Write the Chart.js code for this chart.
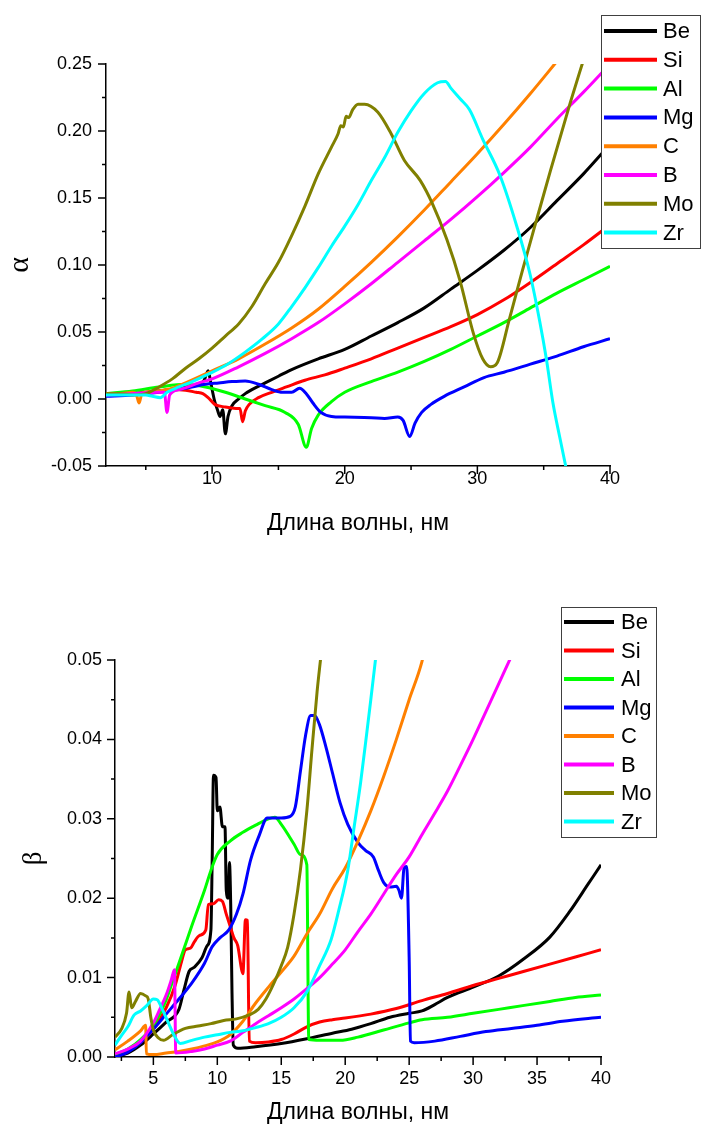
<!DOCTYPE html>
<html>
<head>
<meta charset="utf-8">
<title>alpha / beta</title>
<script src="https://cdn.jsdelivr.net/npm/chart.js@4.4.1/dist/chart.umd.min.js"></script>
<style>
  body { margin: 0; background: #fff; }
  canvas { display: block; }
</style>
</head>
<body>
<canvas id="chartAlpha" width="701" height="545"></canvas>
<canvas id="chartBeta" width="701" height="579"></canvas>
<script>
// names and colours of the series
var names = ['Be', 'Si', 'Al', 'Mg', 'C', 'B', 'Mo', 'Zr'];
var colors = ['#000000', '#ff0000', '#00ff00', '#0000ff', '#ff8000', '#ff00ff', '#808000', '#00ffff'];

// ticks
var alphaXMajor = [10, 20, 30, 40];
var alphaXMinor = [5, 15, 25, 35];
var alphaYMajor = [-0.05, 0, 0.05, 0.10, 0.15, 0.20, 0.25];
var alphaYMinor = [-0.025, 0.025, 0.075, 0.125, 0.175, 0.225];
var betaXMajor = [5, 10, 15, 20, 25, 30, 35, 40];
var betaXMinor = [2.5, 7.5, 12.5, 17.5, 22.5, 27.5, 32.5, 37.5];
var betaYMajor = [0, 0.01, 0.02, 0.03, 0.04, 0.05];
var betaYMinor = [0.005, 0.015, 0.025, 0.035, 0.045];

// alpha: [wavelength nm, value]
var alphaBe = [[2,0.003],[4,0.004],[6,0.006],[8,0.009],[9,0.011],[9.4,0.014],[9.7,0.021],[9.9,0.012],[10.2,-0.002],[10.4,-0.008],[10.6,-0.013],[10.8,-0.008],[11.0,-0.026],[11.2,-0.013],[11.5,-0.005],[12,0.0],[12.5,0.004],[13,0.007],[14,0.012],[15,0.017],[16,0.022],[18,0.030],[20,0.037],[22,0.047],[24,0.057],[26,0.068],[28,0.082],[30,0.096],[32,0.111],[34,0.128],[36,0.148],[38,0.168],[40,0.19]];
var alphaSi = [[2,0.003],[4,0.004],[5,0.005],[6,0.006],[7,0.007],[8,0.0065],[8.8,0.005],[9.3,0.004],[9.7,0.001],[10.2,-0.004],[11,-0.006],[11.8,-0.007],[12.1,-0.007],[12.3,-0.017],[12.5,-0.009],[12.8,-0.004],[13.5,0.001],[14.5,0.005],[15.6,0.009],[17,0.014],[18.5,0.018],[20,0.023],[22,0.030],[24,0.038],[26,0.046],[28,0.054],[30,0.063],[32,0.074],[34,0.087],[36,0.101],[38,0.115],[40,0.130]];
var alphaAl = [[2,0.004],[4,0.006],[6,0.009],[8,0.011],[9.5,0.009],[11,0.005],[12.5,0.000],[14,-0.005],[15.5,-0.010],[16.5,-0.019],[17.1,-0.036],[17.5,-0.022],[18,-0.012],[19,-0.002],[20,0.005],[22,0.013],[24,0.020],[26,0.028],[28,0.037],[30,0.047],[32,0.057],[34,0.068],[36,0.079],[38,0.089],[40,0.099]];
var alphaMg = [[2,0.002],[4,0.003],[6,0.005],[8,0.008],[9.5,0.011],[10.5,0.012],[11.5,0.013],[12.5,0.0135],[13.5,0.011],[14.5,0.007],[15.3,0.005],[16,0.005],[16.6,0.008],[17.1,0.004],[17.6,-0.003],[18.2,-0.010],[19,-0.013],[20,-0.0135],[22,-0.014],[23,-0.0145],[24,-0.0135],[24.4,-0.016],[24.9,-0.028],[25.3,-0.018],[25.8,-0.010],[26.5,-0.004],[27.5,0.002],[29,0.009],[30.5,0.016],[32,0.020],[34,0.026],[36,0.032],[38,0.039],[40,0.045]];
var alphaC = [[2,0.004],[3,0.004],[4,0.005],[4.3,0.003],[4.5,-0.003],[4.7,0.004],[5,0.005],[6,0.006],[7,0.008],[8,0.012],[10,0.021],[12,0.030],[14,0.041],[16,0.053],[18,0.067],[20,0.084],[22,0.102],[24,0.121],[26,0.141],[28,0.162],[30,0.183],[32,0.205],[34,0.228],[36,0.252]];
var alphaB = [[2,0.003],[4,0.004],[6,0.005],[6.4,0.005],[6.6,-0.010],[6.8,0.003],[7.5,0.007],[9,0.012],[10,0.015],[12,0.024],[14,0.034],[16,0.045],[18,0.057],[20,0.071],[22,0.086],[24,0.102],[26,0.118],[28,0.134],[30,0.151],[32,0.169],[34,0.188],[36,0.209],[38,0.229],[40,0.25]];
var alphaMo = [[2,0.004],[3,0.004],[4,0.003],[5,0.004],[6,0.009],[7,0.015],[8,0.023],[9,0.030],[10,0.038],[11,0.047],[12,0.056],[13,0.069],[14,0.086],[15,0.102],[16,0.122],[17,0.144],[18,0.168],[19,0.188],[19.5,0.198],[19.7,0.204],[19.9,0.203],[20.1,0.211],[20.3,0.210],[20.6,0.216],[21,0.220],[21.5,0.220],[22.5,0.214],[23.5,0.198],[24.5,0.178],[25.7,0.163],[26.6,0.146],[27.7,0.119],[28.7,0.088],[29.7,0.049],[30.4,0.030],[31,0.024],[31.5,0.027],[32.4,0.059],[33.4,0.096],[34.5,0.135],[35.5,0.170],[37,0.221],[38,0.253]];
var alphaZr = [[2,0.003],[4,0.003],[5,0.003],[5.5,0.002],[6.1,0.001],[6.6,0.005],[7.5,0.009],[8.5,0.013],[9.6,0.018],[11,0.025],[12.5,0.035],[13.8,0.045],[15,0.056],[16,0.069],[17,0.083],[18,0.098],[19,0.114],[20,0.129],[21,0.145],[22,0.163],[23,0.180],[24,0.199],[25,0.215],[26,0.228],[27,0.236],[27.6,0.237],[28,0.232],[28.7,0.224],[29.4,0.216],[30.4,0.194],[31.7,0.167],[33,0.128],[34,0.092],[34.7,0.058],[35.2,0.030],[35.7,-0.003],[36.2,-0.028],[36.7,-0.052]];

// beta
var betaBe = [[2,0.0001],[3,0.0005],[4,0.0015],[5,0.0029],[6,0.0044],[7,0.006],[7.4,0.0085],[7.8,0.0108],[8.2,0.0113],[8.8,0.0125],[9.2,0.014],[9.5,0.016],[9.6,0.025],[9.7,0.0355],[9.9,0.0352],[10.0,0.031],[10.2,0.0315],[10.4,0.029],[10.6,0.029],[10.7,0.021],[10.85,0.020],[10.95,0.0245],[11.05,0.019],[11.15,0.008],[11.25,0.0015],[11.6,0.0011],[13,0.0013],[15,0.0017],[17,0.0023],[19,0.003],[20.5,0.0035],[22,0.0042],[23.5,0.005],[25,0.0055],[26,0.0058],[27,0.0066],[28,0.0075],[30,0.0088],[32,0.0102],[34,0.0124],[36,0.0151],[37.5,0.0182],[39,0.0218],[40,0.0242]];
var betaSi = [[2,0.0003],[3,0.0008],[4,0.0018],[5,0.0035],[6,0.0062],[6.7,0.009],[7.2,0.012],[7.5,0.0135],[7.9,0.0137],[8.2,0.0145],[8.6,0.0153],[9.1,0.016],[9.3,0.0192],[9.7,0.0193],[10.1,0.0198],[10.4,0.0196],[10.7,0.018],[11.0,0.0165],[11.3,0.015],[11.6,0.014],[11.9,0.011],[12.0,0.0105],[12.2,0.0173],[12.35,0.0172],[12.5,0.002],[13,0.0018],[14,0.0019],[15,0.0022],[16,0.0029],[17,0.0038],[18,0.0044],[19,0.0047],[20,0.0049],[22,0.0054],[24,0.0061],[26,0.0071],[28,0.008],[30,0.009],[32,0.0099],[34,0.0108],[36,0.0117],[38,0.0126],[40,0.0135]];
var betaAl = [[2,0.0003],[3,0.001],[4,0.0022],[5,0.004],[6,0.0072],[6.5,0.0095],[7,0.0118],[8,0.0165],[9,0.021],[9.5,0.0235],[10,0.0255],[11,0.0272],[12,0.0283],[13,0.0292],[14,0.030],[14.5,0.0302],[15,0.0293],[16,0.0268],[16.5,0.0255],[17.0,0.0242],[17.15,0.0022],[18,0.0021],[19.6,0.0021],[21,0.0025],[23,0.0034],[25,0.0043],[26,0.0047],[28,0.005],[30,0.0055],[32,0.006],[34,0.0065],[36,0.007],[38,0.0075],[40,0.0078]];
var betaMg = [[2,0.0],[3,0.0006],[4,0.0018],[5,0.0035],[6,0.0054],[7,0.0073],[8,0.0093],[9,0.0118],[9.6,0.0139],[10.2,0.015],[10.9,0.016],[11.5,0.018],[12,0.0205],[12.6,0.0248],[13.3,0.028],[13.9,0.0301],[15,0.0301],[15.7,0.0303],[16.1,0.0315],[16.5,0.036],[16.9,0.0405],[17.3,0.043],[17.6,0.043],[18,0.0418],[18.5,0.039],[19,0.0358],[19.6,0.032],[20.2,0.0293],[21,0.027],[21.6,0.026],[22.2,0.0252],[22.6,0.0235],[23,0.022],[23.5,0.0214],[24,0.0215],[24.2,0.021],[24.4,0.020],[24.6,0.0238],[24.8,0.024],[25.0,0.0125],[25.1,0.002],[25.4,0.0018],[27,0.002],[29,0.0026],[31,0.0032],[33,0.0036],[35,0.004],[37,0.0045],[40,0.005]];
var betaC = [[2,0.0009],[3,0.002],[4,0.0033],[4.4,0.004],[4.45,0.0004],[5,0.0003],[6,0.0005],[7,0.0007],[8,0.001],[9,0.0014],[10,0.0019],[11,0.0028],[12,0.0045],[13,0.0068],[14,0.0088],[15,0.0107],[16,0.0127],[17,0.0155],[18,0.018],[19,0.0212],[20,0.0238],[21,0.0272],[22,0.031],[23,0.0353],[24,0.040],[25,0.045],[26,0.0498],[26.3,0.052]];
var betaB = [[2,0.0004],[3,0.001],[4,0.002],[5,0.0043],[5.5,0.006],[6,0.0078],[6.4,0.0097],[6.65,0.011],[6.75,0.0005],[8,0.0007],[9,0.001],[10,0.0015],[11,0.002],[12,0.0031],[13,0.0042],[14,0.0052],[15,0.0062],[16,0.0073],[17,0.0086],[18,0.01],[19,0.0117],[20,0.0135],[21,0.0158],[22,0.018],[23,0.0205],[24,0.023],[25,0.0252],[26,0.028],[27,0.0307],[28,0.0335],[29,0.0367],[30,0.040],[31,0.0435],[32,0.047],[33,0.0505]];
var betaMo = [[2,0.0025],[2.5,0.0035],[2.9,0.0055],[3.1,0.0082],[3.3,0.0062],[3.6,0.007],[4.0,0.008],[4.4,0.0077],[4.6,0.0073],[4.8,0.005],[5.0,0.0034],[5.4,0.0024],[5.8,0.0021],[6.5,0.0028],[7.5,0.0036],[8.5,0.0039],[9.5,0.0042],[10.5,0.0046],[11.5,0.0048],[12.5,0.0053],[13.2,0.006],[13.8,0.0073],[14.4,0.0092],[15,0.0115],[15.5,0.0138],[16,0.018],[16.5,0.0236],[17,0.031],[17.4,0.0387],[17.8,0.046],[18.1,0.0505]];
var betaZr = [[2,0.0015],[2.5,0.0027],[3,0.0038],[3.5,0.0053],[4,0.0058],[4.5,0.0065],[5,0.0073],[5.3,0.0072],[5.7,0.006],[6.2,0.0042],[6.6,0.0028],[7.1,0.0017],[8,0.0021],[9,0.0025],[10,0.0028],[11,0.0031],[12,0.0033],[13,0.0037],[14,0.0042],[15,0.005],[16,0.0062],[17,0.0082],[18,0.0115],[18.9,0.0148],[19.5,0.0185],[20.2,0.0235],[20.7,0.029],[21.2,0.0345],[21.7,0.041],[22,0.045],[22.4,0.0505]];

var alphaSeries = [alphaBe, alphaSi, alphaAl, alphaMg, alphaC, alphaB, alphaMo, alphaZr];
var betaSeries = [betaBe, betaSi, betaAl, betaMg, betaC, betaB, betaMo, betaZr];

Chart.defaults.font.family = '"Liberation Sans", Arial, sans-serif';
Chart.defaults.color = '#000';

function inList(v, list) {
    for (var i = 0; i < list.length; i++) {
        if (Math.abs(list[i] - v) < 1e-9) return true;
    }
    return false;
}

function makeDatasets(series) {
    return series.map(function (pts, i) {
        return {
            label: names[i],
            data: pts.map(function (p) { return { x: p[0], y: p[1] }; }),
            borderColor: colors[i],
            borderWidth: 3,
            pointRadius: 0,
            fill: false,
            cubicInterpolationMode: 'monotone',
            order: names.length - i   // Zr on top
        };
    });
}

// short outside ticks, minor ones half as long
var tickMarks = {
    id: 'tickMarks',
    afterDraw: function (chart, args, opts) {
        var ctx = chart.ctx;
        var xs = chart.scales.x;
        var ys = chart.scales.y;
        ctx.save();
        ctx.strokeStyle = '#000';
        ctx.lineWidth = 1.5;
        ctx.beginPath();
        xs.ticks.forEach(function (t) {
            var px = xs.getPixelForValue(t.value);
            var len = inList(t.value, opts.xMajor) ? 8 : 4;
            ctx.moveTo(px, chart.chartArea.bottom);
            ctx.lineTo(px, chart.chartArea.bottom + len);
        });
        ys.ticks.forEach(function (t) {
            var py = ys.getPixelForValue(t.value);
            var len = inList(t.value, opts.yMajor) ? 8 : 4;
            ctx.moveTo(chart.chartArea.left, py);
            ctx.lineTo(chart.chartArea.left - len, py);
        });
        ctx.stroke();
        ctx.restore();
    }
};

// boxed legend drawn over the plot
var boxLegend = {
    id: 'boxLegend',
    afterDraw: function (chart, args, o) {
        var ctx = chart.ctx;
        ctx.save();
        ctx.fillStyle = '#fff';
        ctx.fillRect(o.x, o.y, o.w, o.h);
        ctx.strokeStyle = '#404040';
        ctx.lineWidth = 1;
        ctx.strokeRect(o.x + 0.5, o.y + 0.5, o.w, o.h);
        ctx.font = '22px "Liberation Sans", Arial, sans-serif';
        ctx.textBaseline = 'middle';
        chart.data.datasets.forEach(function (ds, i) {
            var y = o.row0 + i * o.step;
            ctx.strokeStyle = ds.borderColor;
            ctx.lineWidth = 4;
            ctx.beginPath();
            ctx.moveTo(o.line0, y);
            ctx.lineTo(o.line1, y);
            ctx.stroke();
            ctx.fillStyle = '#000';
            ctx.fillText(ds.label, o.textX, y + 1);
        });
        ctx.restore();
    }
};

function makeChart(id, series, cfg) {
    return new Chart(id, {
        type: 'line',
        data: { datasets: makeDatasets(series) },
        plugins: [tickMarks, boxLegend],
        options: {
            responsive: false,
            animation: false,
            layout: { padding: { top: cfg.padTop, right: cfg.padRight, left: 0, bottom: 0 } },
            plugins: {
                legend: { display: false },
                tooltip: { enabled: false },
                tickMarks: { xMajor: cfg.xMajor, yMajor: cfg.yMajor },
                boxLegend: cfg.legend
            },
            scales: {
                x: {
                    type: 'linear',
                    min: 2,
                    max: 40,
                    grid: { display: false, drawTicks: false },
                    border: { display: true, color: '#000', width: 1.5 },
                    afterBuildTicks: function (scale) {
                        scale.ticks = cfg.xMajor.concat(cfg.xMinor).sort(function (a, b) { return a - b; })
                            .map(function (v) { return { value: v }; });
                    },
                    afterFit: function (scale) { scale.height = cfg.xHeight; },
                    ticks: {
                        autoSkip: false,
                        maxRotation: 0,
                        padding: cfg.xPad,
                        font: { size: 18 },
                        callback: function (v) { return inList(v, cfg.xMajor) ? String(v) : ''; }
                    },
                    title: {
                        display: true,
                        text: 'Длина волны, нм',
                        font: { size: 23, lineHeight: 1 },
                        padding: { top: 0, bottom: cfg.xTitlePad }
                    }
                },
                y: {
                    type: 'linear',
                    min: cfg.yMin,
                    max: cfg.yMax,
                    grid: { display: false, drawTicks: false },
                    border: { display: true, color: '#000', width: 1.5 },
                    afterBuildTicks: function (scale) {
                        scale.ticks = cfg.yMajor.concat(cfg.yMinor).sort(function (a, b) { return a - b; })
                            .map(function (v) { return { value: v }; });
                    },
                    afterFit: function (scale) { scale.width = cfg.yWidth; },
                    ticks: {
                        autoSkip: false,
                        padding: cfg.yPad,
                        font: { size: 18 },
                        callback: function (v) { return inList(v, cfg.yMajor) ? v.toFixed(2) : ''; }
                    },
                    title: {
                        display: true,
                        text: cfg.yTitle,
                        font: { family: '"Liberation Serif", "DejaVu Serif", serif', size: cfg.yTitleSize, lineHeight: 1 },
                        padding: { top: cfg.yTitlePad, bottom: 0 }
                    }
                }
            }
        }
    });
}

var chartAlpha = makeChart('chartAlpha', alphaSeries, {
    padTop: 64, padRight: 91, xHeight: 79, yWidth: 106,
    yMin: -0.05, yMax: 0.25, yTitle: 'α', yTitleSize: 30,
    xMajor: alphaXMajor, xMinor: alphaXMinor, yMajor: alphaYMajor, yMinor: alphaYMinor,
    xPad: 2, yPad: 14, xTitlePad: 10, yTitlePad: 5,
    legend: { x: 601, y: 15, w: 99, h: 233, row0: 31, step: 28.8, line0: 604, line1: 657, textX: 663 }
});

var chartBeta = makeChart('chartBeta', betaSeries, {
    padTop: 115, padRight: 100, xHeight: 67, yWidth: 115,
    yMin: 0, yMax: 0.05, yTitle: 'β', yTitleSize: 27,
    xMajor: betaXMajor, xMinor: betaXMinor, yMajor: betaYMajor, yMinor: betaYMinor,
    xPad: 11, yPad: 13, xTitlePad: 0, yTitlePad: 20,
    legend: { x: 561, y: 62, w: 95, h: 230, row0: 77, step: 28.5, line0: 564, line1: 614, textX: 621 }
});
</script>
</body>
</html>
